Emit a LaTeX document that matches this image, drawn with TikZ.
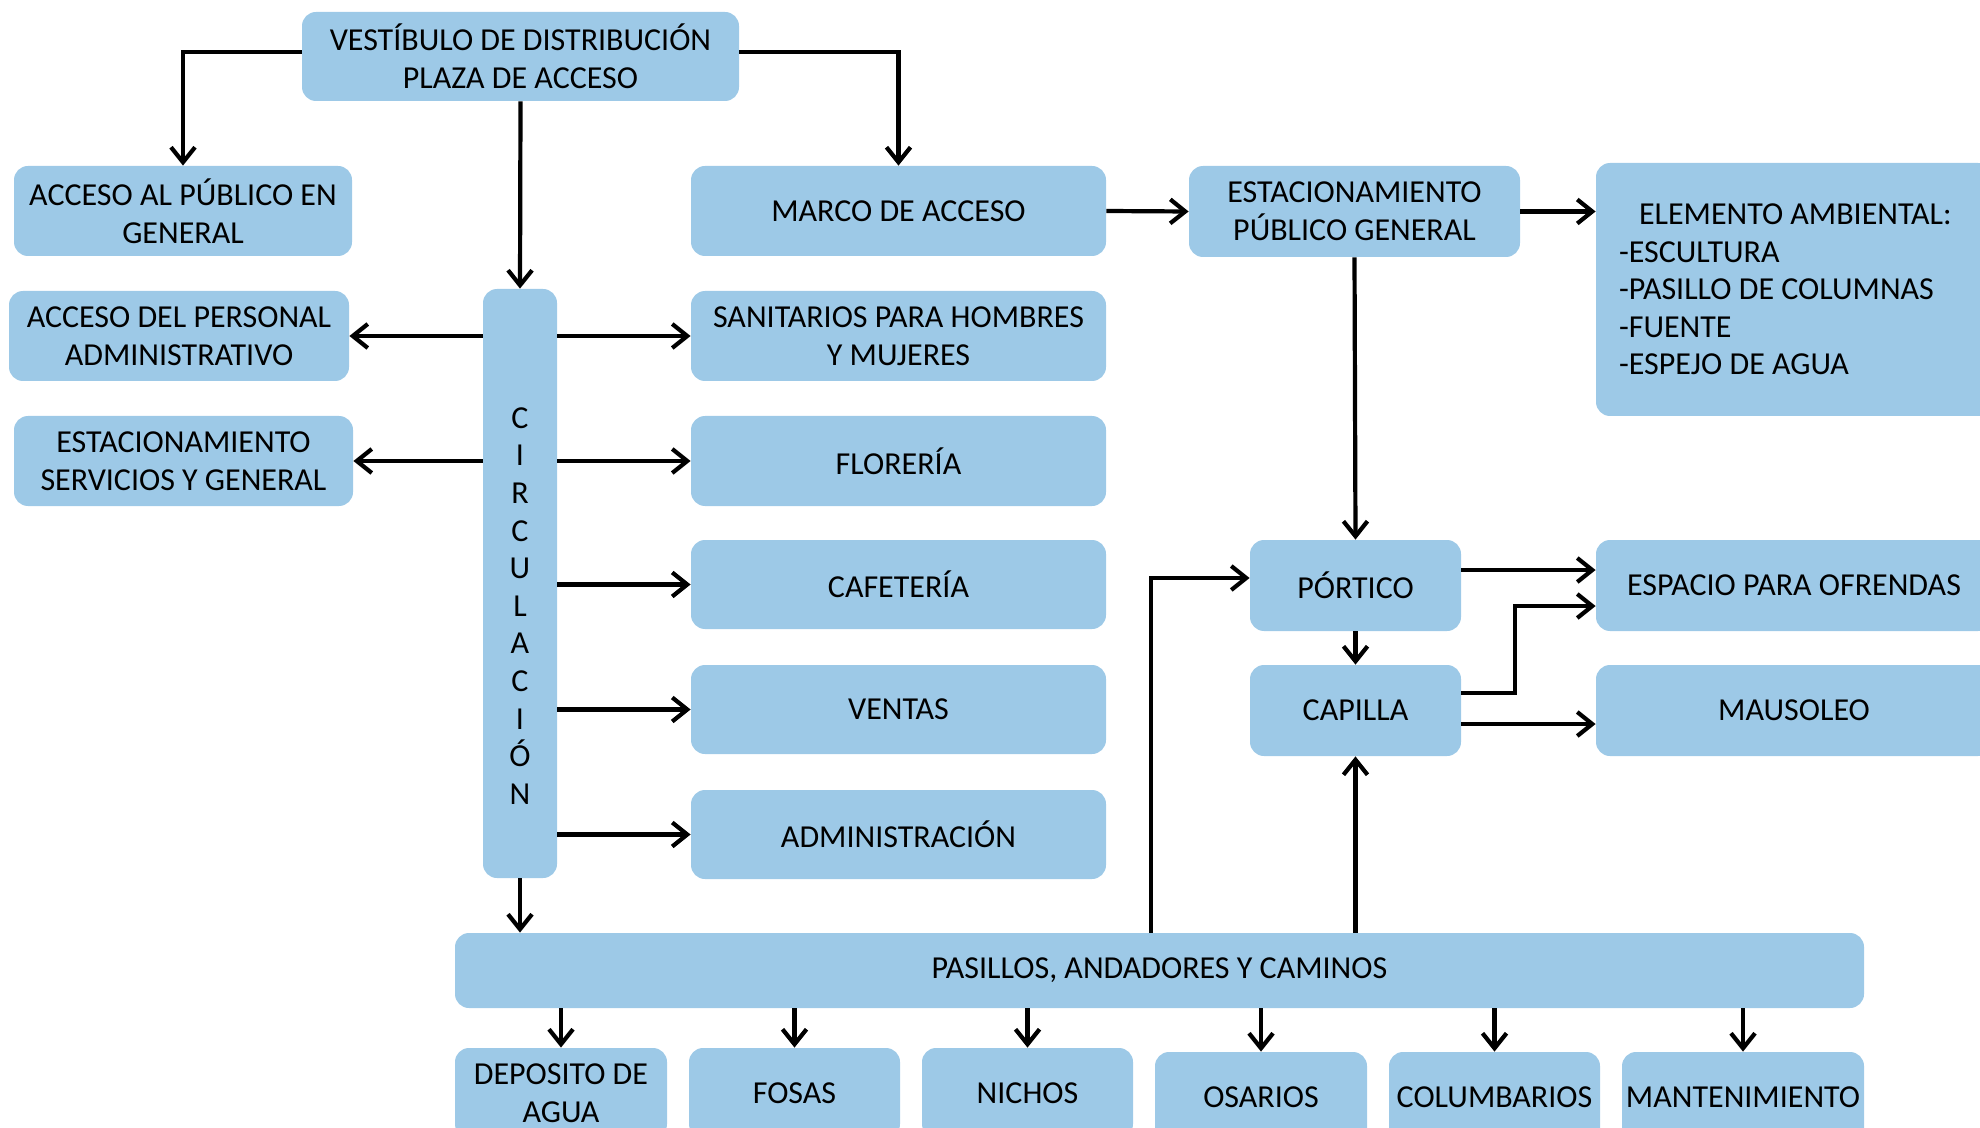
\documentclass[tikz,border=0pt]{standalone}
\usepackage{fontspec}
\setmainfont{Carlito}
\usetikzlibrary{arrows.meta,calc}
\definecolor{boxblue}{RGB}{157,201,231}
\newcommand{\dfont}{\fontsize{16}{18.8}\selectfont}
\begin{document}
\begin{tikzpicture}[x=0.5pt,y=-0.5pt,
  box/.style={fill=boxblue, rounded corners=7pt, inner sep=0pt, align=center, font=\dfont, text=black},
  arr/.style={line width=2.1pt, -{Straight Barb[length=7.5pt,width=12pt]}}]
\useasboundingbox (0,0) rectangle (1980,1128);
\clip (0,0) rectangle (1980,1128);
% boxes
\node[box, minimum width=218.5pt, minimum height=44.5pt] (vest) at (520.5,56.5) {VESTÍBULO DE DISTRIBUCIÓN\\PLAZA DE ACCESO};
\node[box, minimum width=169pt, minimum height=45pt] (pub) at (183,211) {ACCESO AL PÚBLICO EN\\GENERAL};
\node[box, minimum width=207.5pt, minimum height=45pt] (marco) at (898.5,211) {MARCO DE ACCESO};
\node[box, minimum width=165.5pt, minimum height=45.5pt] (estpub) at (1354.5,211.5) {ESTACIONAMIENTO\\PÚBLICO GENERAL};
\node[box, minimum width=198pt, minimum height=126.5pt, text width=175pt, inner xsep=11.5pt, align=flush left] (elem) at (1794,289.5) {\hspace*{10pt}ELEMENTO AMBIENTAL:\\-ESCULTURA\\-PASILLO DE COLUMNAS\\-FUENTE\\-ESPEJO DE AGUA};
\node[box, minimum width=170pt, minimum height=45pt] (personal) at (179,336) {ACCESO DEL PERSONAL\\ADMINISTRATIVO};
\node[box, minimum width=37pt, minimum height=294.5pt] (circ) at (520,583.5) {};
\node[font=\dfont, align=center, inner sep=0pt] (circlabel) at (520,606) {C\\I\\R\\C\\U\\L\\A\\C\\I\\Ó\\N};
\node[box, minimum width=207.5pt, minimum height=45pt] (sanit) at (898.5,336) {SANITARIOS PARA HOMBRES\\Y MUJERES};
\node[box, minimum width=169.5pt, minimum height=45pt] (estserv) at (183.5,461) {ESTACIONAMIENTO\\SERVICIOS Y GENERAL};
\node[box, minimum width=207.5pt, minimum height=45pt] (flor) at (898.5,461) {FLORERÍA};
\node[box, minimum width=207.5pt, minimum height=44.5pt] (cafe) at (898.5,584.5) {CAFETERÍA};
\node[box, minimum width=207.5pt, minimum height=44.5pt] (ventas) at (898.5,709.5) {VENTAS};
\node[box, minimum width=207.5pt, minimum height=44.5pt] (admin) at (898.5,834.5) {ADMINISTRACIÓN};
\node[box, minimum width=105.5pt, minimum height=45.5pt] (portico) at (1355.5,585.5) {PÓRTICO};
\node[box, minimum width=105.5pt, minimum height=45.5pt] (capilla) at (1355.5,710.5) {CAPILLA};
\node[box, minimum width=198pt, minimum height=45.5pt] (espacio) at (1794,585.5) {ESPACIO PARA OFRENDAS};
\node[box, minimum width=198pt, minimum height=45.5pt] (mausoleo) at (1794,710.5) {MAUSOLEO};
\node[box, minimum width=704.5pt, minimum height=37.5pt] (pasillos) at (1159.5,970.5) {PASILLOS, ANDADORES Y CAMINOS};
\node[box, minimum width=106pt, minimum height=45pt] (dep) at (561,1093) {DEPOSITO DE\\AGUA};
\node[box, minimum width=105.5pt, minimum height=45pt] (fosas) at (794.5,1093) {FOSAS};
\node[box, minimum width=105.5pt, minimum height=45pt] (nichos) at (1027.5,1093) {NICHOS};
\node[box, minimum width=106pt, minimum height=45pt] (osarios) at (1261,1097) {OSARIOS};
\node[box, minimum width=105.5pt, minimum height=45pt] (columb) at (1494.5,1097) {COLUMBARIOS};
\node[box, minimum width=121pt, minimum height=45pt] (mant) at (1743,1097) {MANTENIMIENTO};
% helper coordinates
\coordinate (vw) at ([yshift=2.25pt]vest.west);
\coordinate (ve) at ([yshift=2.25pt]vest.east);
\coordinate (pxcol) at (1151,0);
\coordinate (pw) at ([yshift=3.75pt]portico.west);
\coordinate (pe) at ([yshift=7.75pt]portico.east);
\coordinate (ce1) at ([yshift=8.75pt]capilla.east);
\coordinate (ce2) at ([yshift=-10.25pt]espacio.west);
\coordinate (xk) at (1515,0);
\coordinate (cm) at ([yshift=-6.75pt]capilla.east);
% connectors
\draw[arr] (vw) -| (pub.north);
\draw[arr] (ve) -| (marco.north);
\draw[arr] (vest.south) -- (circ.north);
\draw[arr] (marco.east) -- (estpub.west);
\draw[arr] (estpub.east) -- (estpub.east -| elem.west);
\draw[arr] (estpub.south) -- (portico.north);
\draw[arr] (circ.west |- personal.east) -- (personal.east);
\draw[arr] (circ.west |- estserv.east) -- (estserv.east);
\draw[arr] (circ.east |- sanit.west) -- (sanit.west);
\draw[arr] (circ.east |- flor.west) -- (flor.west);
\draw[arr] (circ.east |- cafe.west) -- (cafe.west);
\draw[arr] (circ.east |- ventas.west) -- (ventas.west);
\draw[arr] (circ.east |- admin.west) -- (admin.west);
\draw[arr] (circ.south) -- (circ.south |- pasillos.north);
\draw[arr] (pasillos.north -| pxcol) |- (pw);
\draw[arr] (capilla.south |- pasillos.north) -- (capilla.south);
\draw[arr] (portico.south) -- (capilla.north);
\draw[arr] (pe) -- (pe -| espacio.west);
\draw[arr] (ce1) -| (xk |- ce2) -- (ce2);
\draw[arr] (cm) -- (cm -| mausoleo.west);
\foreach \b in {dep,fosas,nichos,osarios,columb,mant}
  \draw[arr] (\b.north |- pasillos.south) -- (\b.north);
\end{tikzpicture}
\end{document}
